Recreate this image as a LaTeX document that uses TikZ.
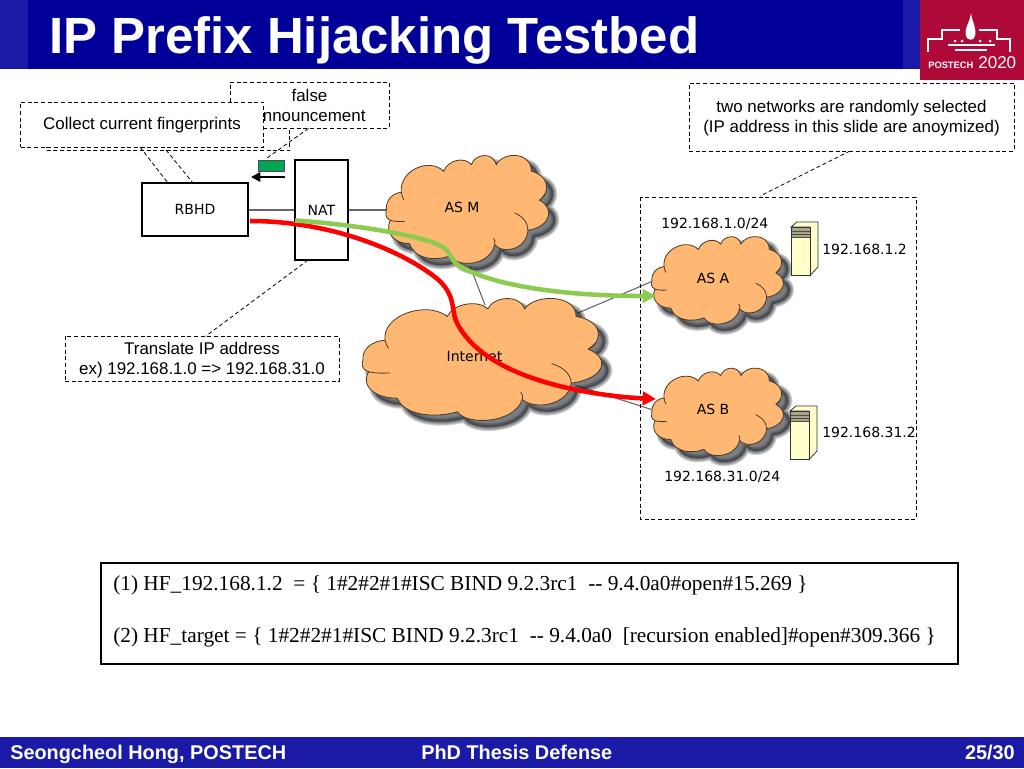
\documentclass[tikz,border=0pt]{standalone}
\usepackage{fontspec}
\setmainfont{Liberation Sans}
\newfontfamily\diafont{DejaVu Sans}
\newfontfamily\imgfont{Liberation Serif}
\usetikzlibrary{arrows.meta}
\definecolor{navy}{HTML}{000099}
\definecolor{navyl}{HTML}{1A1AA6}
\definecolor{logored}{HTML}{AF0A37}
\definecolor{cloudfill}{HTML}{FFB874}
\definecolor{cloudline}{HTML}{4A3A28}
\definecolor{servfill}{HTML}{FFFFCC}
\definecolor{arrowgreen}{HTML}{8CCB50}
\definecolor{pktgreen}{HTML}{00A651}
\definecolor{shadowc}{HTML}{20242A}
\newcommand{\cloudshape}{
 (110,180) .. controls (108,150) and (130,130) .. (155,128)
 .. controls (148,62) and (240,22) .. (282,65)
 .. controls (295,30) and (345,20) .. (365,45)
 .. controls (375,12) and (430,5) .. (440,45)
 .. controls (460,5) and (545,5) .. (545,65)
 .. controls (595,75) and (605,125) .. (570,152)
 .. controls (615,175) and (605,230) .. (535,242)
 .. controls (530,300) and (460,315) .. (435,285)
 .. controls (420,350) and (320,355) .. (303,318)
 .. controls (260,335) and (195,330) .. (180,282)
 .. controls (130,282) and (105,245) .. (122,212)
 .. controls (105,205) and (108,190) .. (110,180) -- cycle}
\newcommand{\drawcloud}[4]{% cx cy sx sy
 \begin{scope}[shift={(#1,#2)},xscale=#3/3,yscale=#4/3,shift={(-355,-178)}]
  \foreach \w in {8,6,4,2}{
   \fill[shadowc,opacity=.2,draw=shadowc,line width=\w*.75pt,line join=round,shift={({20/#3},{20/#4})}] \cloudshape;}
  \draw[cloudline,fill=cloudfill,line width=.6pt] \cloudshape;
  \draw[cloudline,line width=.6pt] (122,212) .. controls (135,216) and (150,216) .. (165,215);
  \draw[cloudline,line width=.6pt] (155,128) .. controls (156,135) and (158,142) .. (162,150);
  \draw[cloudline,line width=.6pt] (535,242) .. controls (535,220) and (520,200) .. (495,190);
  \draw[cloudline,line width=.6pt] (570,152) .. controls (575,147) and (580,142) .. (585,135);
  \draw[cloudline,line width=.6pt] (435,285) .. controls (437,278) and (436,272) .. (432,266);
 \end{scope}}
\newcommand{\drawserver}[3]{% x y sy: front left-top
 \begin{scope}[shift={(#1,#2)},yscale=#3]
  \draw[black!80,fill=servfill,line width=.6pt] (0,5) -- (6,0) -- (27,0) -- (27,45) -- (19,53.5) -- (19,5) -- cycle;
  \draw[black!80,fill=servfill,line width=.6pt] (0,5) rectangle (19,53.5);
  \fill[black!35!servfill] (0.6,5.6) rectangle (18.6,16);
  \draw[black!70,line width=.7pt] (1,9) -- (18.5,9) (1,12) -- (18.5,12) (1,15) -- (18.5,15);
 \end{scope}}
\tikzset{
 note/.style={draw=black,fill=white,line width=.6pt,dash pattern=on 3pt off 2pt,inner sep=0pt},
 leader/.style={draw=black,line width=.6pt,dash pattern=on 3pt off 2pt},
 dev/.style={draw=black,fill=white,line width=.8pt,inner sep=0pt,font=\diafont\fontsize{10.5}{12}\selectfont},
 dialabel/.style={font=\diafont\fontsize{10.5}{12}\selectfont,inner sep=0pt},
 notetxt/.style={align=center,inner sep=0pt,font=\fontsize{12.7}{15}\selectfont},
 link/.style={draw=black!60,line width=.8pt},
 foot/.style={text=white,inner sep=0pt,font=\bfseries\fontsize{14.9}{16}\selectfont},
}
\begin{document}
\begin{tikzpicture}[x=.75pt,y=-.75pt]
\useasboundingbox (0,0) rectangle (1024,768);
\fill[white] (0,0) rectangle (1024,768);
% header
\fill[navy] (0,0) rectangle (1024,69);
\fill[navyl] (0,0) rectangle (28,69);
\fill[navyl] (903,0) rectangle (920,69);
\fill[logored] (920,0) rectangle (1024,80);
\node[anchor=base west,inner sep=0pt,text=white,font=\bfseries\fontsize{38.2}{42}\selectfont] (title) at (49,53.5) {IP Prefix Hijacking Testbed};
% logo
\begin{scope}[white,line width=1.4pt]
 \draw (928,52) -- (928,39) -- (942,39) -- (942,30) -- (960,30);
 \draw (1010,52) -- (1010,39) -- (997,39) -- (997,30) -- (979,30);
 \draw (948,45) -- (995,45) (955,50) -- (987,50);
 \fill (966,36) .. controls (964,28) and (970,22) .. (971,13) .. controls (972,22) and (977,28) .. (975,36) .. controls (974,41) and (967,41) .. (966,36) -- cycle;
 \fill (955,41) circle (1.5) (962,41) circle (1.5) (980,41) circle (1.5) (990,41) circle (1.5);
\end{scope}
\node[anchor=base west,inner sep=0pt,text=white,font=\bfseries\fontsize{7}{8}\selectfont] (logo1) at (928,68) {POSTECH};
\node[anchor=base west,inner sep=0pt,text=white,font=\fontsize{12.8}{14}\selectfont] (logo2) at (978,68) {2020};
% footer
\fill[navyl] (0,737) rectangle (1024,768);
\node[foot,anchor=base west] (f1) at (10,759) {Seongcheol Hong, POSTECH};
\node[foot,anchor=base west] (f2) at (421,759) {PhD Thesis Defense};
\node[foot,anchor=base east] (f3) at (1015,759) {25/30};
% devices
\node[dev,minimum width=106*.75pt,minimum height=53*.75pt] (rbhd) at (195,209.5) {RBHD};
\node[dev,minimum width=53*.75pt,minimum height=100*.75pt] (nat) at (321.5,210) {NAT};
% anchors for the clouds
\coordinate (asmw) at (387,210);
\coordinate (asms) at (470,266);
\coordinate (ineta) at (485,305);
\coordinate (inetne) at (578,313);
\coordinate (inetse) at (575,385);
\coordinate (asaw) at (653,281);
\coordinate (asbw) at (653,410);
\draw[link] (rbhd.east |- 0,210) -- (nat.west |- 0,210);
\draw[link] (nat.east |- 0,210) -- (asmw);
\draw[link] (asms) -- (ineta);
\draw[link] (inetne) -- (asaw);
\draw[link] (inetse) -- (asbw);
% clouds
\drawcloud{468}{209}{1}{1}
\drawcloud{483}{359}{1.47}{1.13}
\drawcloud{718}{280}{.81}{.81}
\drawcloud{718}{411.5}{.81}{.81}
\node[dialabel] (asm) at (462,207) {AS M};
\node[dialabel] (inet) at (474.5,356) {Internet};
\node[dialabel] (asa) at (713,278.5) {AS A};
\node[dialabel] (asb) at (713,409) {AS B};
% servers
\drawserver{791}{222}{1}
\drawserver{790}{406}{1}
\node[dialabel,anchor=base west] (l1) at (661,228) {192.168.1.0/24};
\node[dialabel,anchor=base west] (l2) at (822,254) {192.168.1.2};
\node[dialabel,anchor=base west] (l3) at (822,437) {192.168.31.2};
\node[dialabel,anchor=base west] (l4) at (664,481) {192.168.31.0/24};
% big dashed group
\draw[leader] (640,197) rectangle (916,519);
% callouts
\coordinate (lead1a) at (850,151);
\coordinate (lead1b) at (760,196);
\draw[leader] (lead1a) -- (lead1b);
\node[note,minimum width=325*.75pt,minimum height=68*.75pt] (two) at (851.5,117) {};
\node[notetxt] (twotxt) at ([yshift=-.9pt]two.center) {two networks are randomly selected\\(IP address in this slide are anoymized)};
\node[note,minimum width=243*.75pt,minimum height=47*.75pt] (hidden) at (168,127) {};
\node[note,minimum width=159*.75pt,minimum height=46*.75pt] (false) at (309.5,105) {};
\node[notetxt] (falsetxt) at ([yshift=-.6pt]false.center) {false\\announcement};
\node[note,minimum width=243*.75pt,minimum height=45*.75pt] (collect) at (142,124.5) {};
\node[notetxt] (collecttxt) at ([yshift=-.6pt]collect.center) {Collect current fingerprints};
\node[note,minimum width=274*.75pt,minimum height=45*.75pt] (trans) at (202,358.5) {};
\node[notetxt] (transtxt) at ([yshift=-.9pt]trans.center) {Translate IP address\\ex) 192.168.1.0 => 192.168.31.0};
\coordinate (pkt) at (267,158);
\coordinate (rb1) at (168,183);
\coordinate (rb2) at (193,183);
\coordinate (nt) at (308,260);
\draw[leader] (false.south) ++(-1,0) -- (pkt);
\draw[leader] (140,147) -- (rb1);
\draw[leader] (166,150) -- (rb2);
\draw[leader] (nt) -- (206,336);
% packet
\node[draw=black!70,fill=pktgreen,line width=.6pt,minimum width=26*.75pt,minimum height=11*.75pt,inner sep=0pt] (packet) at (271,166) {};
\coordinate (pa) at (285,177);
\coordinate (pb) at (251,177);
\draw[black,line width=2.2pt,-{Triangle[length=7pt,width=7pt]}] (pa) -- (pb);
% coloured paths
\coordinate (redstart) at (250,221);
\coordinate (greenend) at (656,296);
\coordinate (redend) at (656,399);
\draw[red,line width=3.4pt,line cap=butt,-{Triangle[length=10pt,width=10pt]}] (redstart)
  .. controls (330,221) and (400,250) .. (435,277)
  .. controls (458,295) and (450,312) .. (458,325)
  .. controls (480,365) and (540,385) .. (600,394)
  .. controls (620,397) and (635,398) .. (redend);
\draw[arrowgreen,line width=3.4pt,line cap=butt,-{Triangle[length=10pt,width=10pt]}] (295,220.5)
  .. controls (350,224) and (420,235) .. (441,246)
  .. controls (452,252) and (450,260) .. (458,265)
  .. controls (490,285) and (560,296) .. (greenend);
% picture panel
\node[draw=black,fill=white,line width=1.9pt,minimum width=857*.75pt,minimum height=101*.75pt,inner sep=0pt] (panel) at (529.5,613.5) {};
\node[anchor=base west,inner sep=0pt,font=\imgfont\fontsize{16}{18}\selectfont] (hf1) at (113,590) {(1) HF\_192.168.1.2\ \ = \{ 1\#2\#2\#1\#ISC BIND 9.2.3rc1\ \ -- 9.4.0a0\#open\#15.269\ \}};
\node[anchor=base west,inner sep=0pt,font=\imgfont\fontsize{16}{18}\selectfont] (hf2) at (113,642) {(2) HF\_target = \{ 1\#2\#2\#1\#ISC BIND 9.2.3rc1\ \ -- 9.4.0a0\ \ [recursion enabled]\#open\#309.366\ \}};
\end{tikzpicture}
\end{document}
